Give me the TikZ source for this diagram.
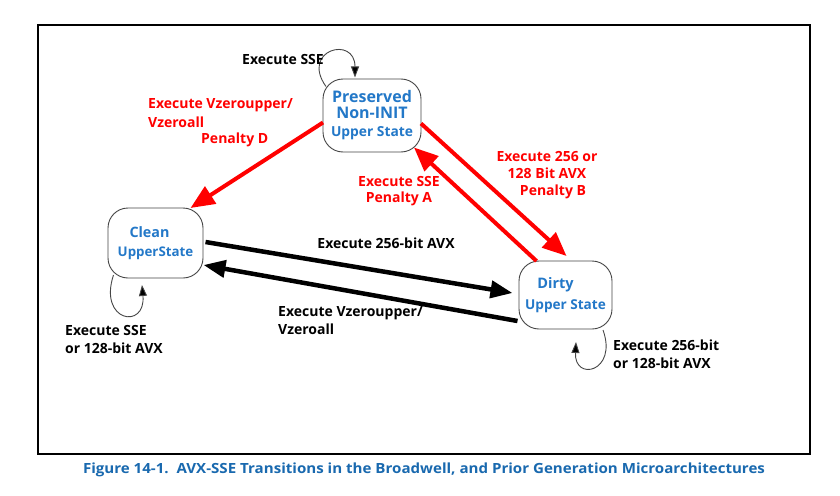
\documentclass[tikz,border=0pt]{standalone}
\usepackage{fontspec}
\usepackage{graphicx}
\setmainfont{Open Sans}
\usetikzlibrary{arrows.meta,calc}
\definecolor{nodeblue}{RGB}{35,120,200}
\definecolor{capblue}{RGB}{25,105,175}
\definecolor{edgegray}{RGB}{70,70,70}
\begin{document}
\begin{tikzpicture}[x=1pt,y=-1pt,
  state/.style={draw=edgegray, line width=0.9pt, rounded corners=20pt, fill=white,
    text=nodeblue, align=center, inner sep=0pt},
  lbl/.style={font=\bfseries\fontsize{14}{17}\selectfont, align=left, inner sep=0pt},
  blkarrow/.style={black, line width=4.5pt, -{Triangle[length=22pt,width=17pt]}},
  redarrow/.style={red, line width=4pt, -{Triangle[length=24pt,width=20pt]}},
  selfloop/.style={edgegray, line width=0.9pt, -{Triangle[length=11pt,width=8pt,fill=black]}}
]
\useasboundingbox[fill=white] (0,0) rectangle (840,495);
\draw[line width=1.4pt] (38,25) rectangle (810,454);

% states
\node[state, minimum width=98pt, minimum height=73pt, font=\bfseries\fontsize{16}{16}\selectfont] (pres) at (372,115.5)
  {Preserved\\[0pt]Non-INIT\\[2pt]{\fontsize{13.8}{16}\selectfont Upper State}};
\node[state, minimum width=95pt, minimum height=70pt, font=\bfseries\fontsize{14.3}{19}\selectfont] (clean) at (155.5,243)
  {Clean\hspace*{12pt}\\{\fontsize{13.3}{19}\selectfont UpperState}};
\node[state, minimum width=93pt, minimum height=68pt, font=\bfseries\fontsize{14.5}{21}\selectfont] (dirty) at (565.5,295)
  {Dirty\hspace*{20pt}\\{\fontsize{13.6}{21}\selectfont Upper State}};

% main transitions
\draw[redarrow] ([shift={(-49,7)}]pres.center) -- ([shift={(35,-35)}]clean.center);
\draw[redarrow] ([shift={(49,8)}]pres.center) -- ([shift={(1,-39)}]dirty.center);
\draw[redarrow] ([shift={(-29,-34)}]dirty.center) -- ([shift={(42,32)}]pres.center);
\draw[blkarrow] ([shift={(50,-1)}]clean.center) -- ([shift={(-53,-2)}]dirty.center);
\draw[blkarrow] ([shift={(-48,26)}]dirty.center) -- ([shift={(48,22)}]clean.center);

% self loops
\draw[selfloop] ([shift={(-46,-29)}]pres.center) .. controls (300,50) and (355,35) .. ([shift={(-17,-38)}]pres.center);
\draw[selfloop] ([shift={(-42,32)}]clean.center) .. controls (98,322) and (146,330) .. ([shift={(-13.5,42)}]clean.center);
\draw[selfloop] ([shift={(37.5,35)}]dirty.center) .. controls (618,372) and (574,382) .. ([shift={(10.5,47)}]dirty.center);

% labels
\node[lbl, anchor=east] (lselfp) at (324,60) {Execute SSE};
\node[lbl, red, anchor=west, font=\bfseries\fontsize{14}{19}\selectfont] (lpd1) at (148,113.5) {Execute Vzeroupper/\\Vzeroall};
\node[lbl, red, anchor=west] (lpd2) at (201,140) {Penalty D};
\node[lbl, red, align=center] (lpb) at (547,175) {Execute 256 or\\128 Bit AVX\\\hspace*{12pt}Penalty B};
\node[lbl, red, align=center, font=\bfseries\fontsize{14}{16}\selectfont] (lpa) at (399,191) {Execute SSE\\Penalty A};
\node[lbl] (lcd) at (386,243) {Execute 256-bit AVX};
\node[lbl, anchor=west, font=\bfseries\fontsize{14}{18}\selectfont] (ldc) at (278,321) {Execute Vzeroupper/\\Vzeroall};
\node[lbl, anchor=west, font=\bfseries\fontsize{14}{18}\selectfont] (lselfc) at (65,339) {Execute SSE\\or 128-bit AVX};
\node[lbl, anchor=west, font=\bfseries\fontsize{14}{18}\selectfont] (lselfd) at (613,354) {Execute 256-bit\\or 128-bit AVX};

% caption
\node[inner sep=0pt, text=capblue, font=\bfseries\fontsize{14}{16}\selectfont] (cap) at (424,470)
  {\resizebox{682pt}{\height}{Figure 14-1.\ \ AVX-SSE Transitions in the Broadwell, and Prior Generation Microarchitectures}};
\end{tikzpicture}
\end{document}
